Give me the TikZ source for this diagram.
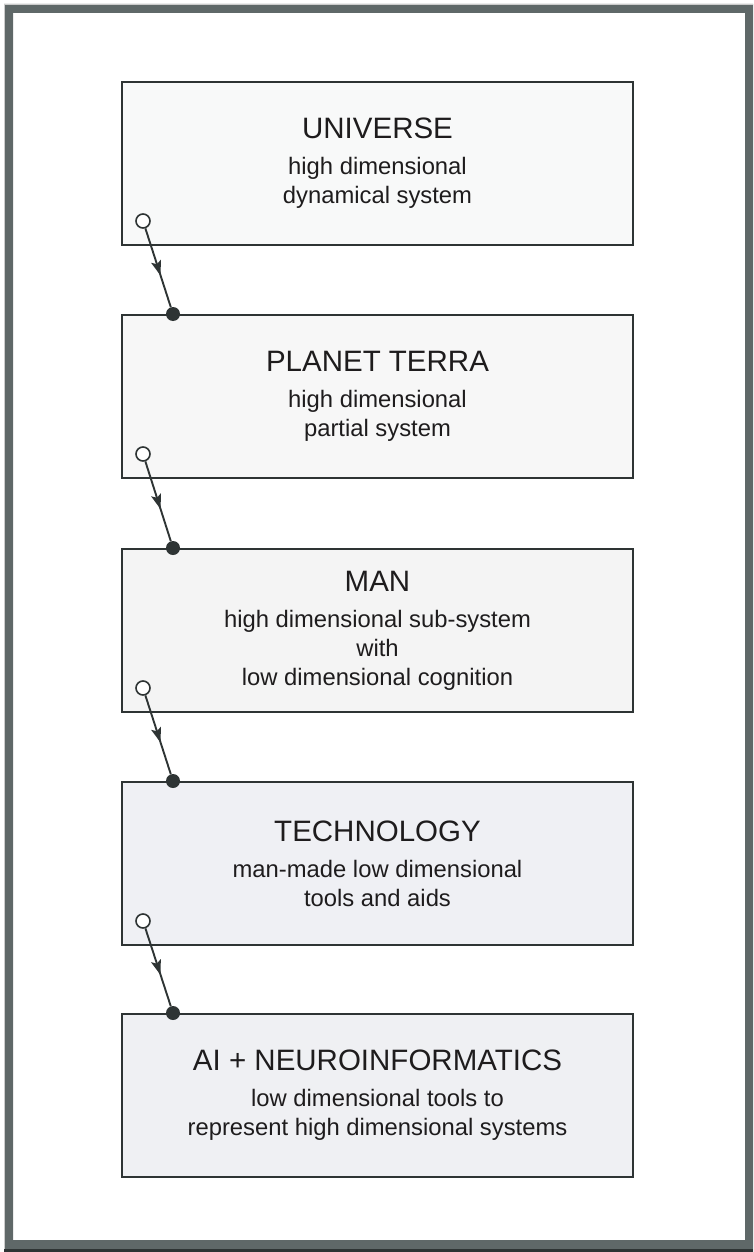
\documentclass[tikz,border=0pt]{standalone}
\usepackage{fontspec}
\setmainfont{Liberation Sans}
\usetikzlibrary{arrows.meta,decorations.markings,calc}
\definecolor{framegray}{HTML}{5F6868}
\definecolor{edgegray}{HTML}{2E3434}
\definecolor{txt}{HTML}{1E1C1D}
\definecolor{fillA}{HTML}{F8F9F9}
\definecolor{fillB}{HTML}{F7F7F7}
\definecolor{fillC}{HTML}{F4F4F4}
\definecolor{fillD}{HTML}{EFF0F4}
\definecolor{fillE}{HTML}{EFF0F3}
\newcommand{\ttl}[1]{{\fontsize{29.5}{29}\selectfont #1}\\[7pt]}
\begin{document}
\begin{tikzpicture}[x=1pt,y=-1pt,
  stagebox/.style={draw=edgegray, line width=2pt, rectangle,
    minimum width=511pt, minimum height=163pt, inner sep=0pt,
    align=center, text=txt, font=\fontsize{23.8}{29}\selectfont},
  opendot/.style={circle, draw=edgegray, fill=white, line width=1.6pt,
    minimum size=14pt, inner sep=0pt},
  fulldot/.style={circle, fill=edgegray, minimum size=14pt, inner sep=0pt},
  link/.style={draw=edgegray, line width=1.9pt,
    postaction={decorate},
    decoration={markings, mark=at position 0.6 with
      {\arrow{Stealth[length=15pt,width=10pt,inset=3pt]}}}}
]
\useasboundingbox (0,0) rectangle (753,1252);
% frame
\fill[framegray, even odd rule] (4,4) rectangle (753,1252) (13,13) rectangle (745,1240);
\fill[edgegray] (4,1249) rectangle (753,1252);
\fill[gray!40] (4,4) rectangle (5,1249);
\fill[gray!40] (4,4) rectangle (753,5);

% boxes
\node[stagebox, fill=fillA] (b1) at (377.5,163.5)
  {\ttl{UNIVERSE}high dimensional\\dynamical system};
\node[stagebox, fill=fillB] (b2) at (377.5,396.5)
  {\ttl{PLANET TERRA}high dimensional\\partial system};
\node[stagebox, fill=fillC] (b3) at (377.5,630.5)
  {\ttl{MAN}high dimensional sub-system\\with\\low dimensional cognition};
\node[stagebox, fill=fillD] (b4) at (377.5,863.5)
  {\ttl{TECHNOLOGY}man-made low dimensional\\tools and aids};
\node[stagebox, fill=fillE] (b5) at (377.5,1095.5)
  {\ttl{AI + NEUROINFORMATICS}low dimensional tools to\\represent high dimensional systems};

% connector end points
\foreach \i in {1,2,3,4} {
  \node[opendot] (o\i) at ($(b\i.south west)+(22,-25)$) {};
}
\foreach \i in {2,3,4,5} {
  \node[fulldot] (f\i) at ($(b\i.north west)+(52,0)$) {};
}
\path[link] (o1) -- (f2);
\path[link] (o2) -- (f3);
\path[link] (o3) -- (f4);
\path[link] (o4) -- (f5);
\end{tikzpicture}
\end{document}
